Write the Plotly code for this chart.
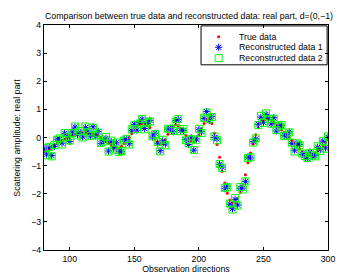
import plotly.graph_objects as go

directions = list(range(80, 301, 2))

true_data = [
    -0.50, -0.47, -0.41, -0.34, -0.27, -0.21, -0.15, -0.10, -0.05, -0.01,
    0.04, 0.08, 0.12, 0.15, 0.16, 0.17, 0.17, 0.16, 0.15, 0.13,
    0.10, 0.06, 0.01, -0.06, -0.13, -0.20, -0.27, -0.33, -0.37, -0.37,
    -0.31, -0.22, -0.12, 0.00, 0.14, 0.27, 0.38, 0.46, 0.50, 0.50,
    0.45, 0.36, 0.12, -0.05, -0.15, -0.22, -0.22, -0.08, 0.12, 0.28,
    0.40, 0.45, 0.42, 0.33, 0.20, 0.07, -0.05, -0.13, -0.17, -0.10,
    0.08, 0.30, 0.50, 0.62, 0.65, 0.50, 0.15, -0.25, -0.70, -1.20,
    -1.62, -1.98, -2.22, -2.33, -2.30, -2.18, -1.95, -1.70, -1.32, -0.90,
    -0.55, -0.24, 0.10, 0.35, 0.52, 0.62, 0.67, 0.66, 0.60, 0.52,
    0.43, 0.35, 0.27, 0.18, 0.10, 0.00, -0.10, -0.20, -0.30, -0.40,
    -0.50, -0.57, -0.60, -0.62, -0.60, -0.55, -0.47, -0.38, -0.28, -0.17,
    -0.07,
]

recon_1 = [
    -0.40, -0.59, -0.36, -0.64, -0.32, -0.06, -0.07, -0.20, 0.15, 0.04,
    -0.14, 0.20, 0.37, 0.10, 0.18, 0.02, 0.35, 0.24, 0.05, 0.38,
    0.05, 0.21, -0.21, -0.11, -0.03, -0.48, -0.15, -0.38, -0.19, -0.49,
    -0.51, -0.07, -0.07, -0.22, 0.24, 0.47, 0.26, 0.54, 0.65, 0.32,
    0.50, 0.61, 0.02, 0.15, -0.20, -0.47, -0.12, -0.23, 0.30, 0.33,
    0.20, 0.60, 0.64, 0.25, 0.25, -0.08, -0.25, -0.01, -0.45, -0.05,
    0.28, 0.20, 0.68, 0.92, 0.60, 0.75, 0.00, -0.05, -0.95, -1.05,
    -1.82, -1.73, -2.37, -2.53, -2.20, -2.40, -1.80, -1.80, -1.57, -0.70,
    -0.73, -0.14, -0.05, 0.47, 0.72, 0.54, 0.82, 0.71, 0.48, 0.70,
    0.23, 0.43, 0.42, 0.08, 0.05, 0.20, -0.22, -0.45, -0.22, -0.25,
    -0.60, -0.62, -0.75, -0.52, -0.68, -0.65, -0.35, -0.43, -0.13, -0.37,
    0.01,
]

recon_2 = [
    -0.37, -0.63, -0.34, -0.67, -0.27, -0.08, -0.03, -0.25, 0.16, 0.01,
    -0.11, 0.16, 0.39, 0.07, 0.23, 0.00, 0.39, 0.19, 0.06, 0.35,
    0.08, 0.17, -0.19, -0.14, 0.02, -0.50, -0.11, -0.43, -0.18, -0.52,
    -0.48, -0.11, -0.05, -0.25, 0.29, 0.45, 0.30, 0.49, 0.66, 0.29,
    0.53, 0.57, 0.04, 0.12, -0.15, -0.49, -0.08, -0.28, 0.31, 0.30,
    0.23, 0.56, 0.66, 0.22, 0.30, -0.10, -0.21, -0.06, -0.44, -0.08,
    0.31, 0.16, 0.70, 0.89, 0.65, 0.73, 0.04, -0.10, -0.94, -1.08,
    -1.79, -1.77, -2.35, -2.56, -2.15, -2.42, -1.76, -1.85, -1.56, -0.73,
    -0.70, -0.18, -0.03, 0.44, 0.77, 0.52, 0.86, 0.66, 0.49, 0.67,
    0.26, 0.39, 0.44, 0.05, 0.10, 0.18, -0.18, -0.50, -0.21, -0.28,
    -0.57, -0.66, -0.73, -0.55, -0.63, -0.67, -0.31, -0.48, -0.12, -0.40,
    0.04,
]

x_ticks = [100, 150, 200, 250, 300]
y_ticks = [-4, -3, -2, -1, 0, 1, 2, 3, 4]
legend_labels = ["True data", "Reconstructed data 1", "Reconstructed data 2"]

FONT = "Liberation Sans, Arial, sans-serif"
RED, BLUE, GREEN = "#ff0000", "#0000ff", "#00ff00"

styles = [
    dict(symbol="circle", size=3, color=RED, line=dict(width=0)),
    dict(symbol="asterisk-open", size=6, color=BLUE, line=dict(width=1, color=BLUE)),
    dict(symbol="square-open", size=7, color=GREEN, line=dict(width=1, color=GREEN)),
]

fig = go.Figure()
for name, vals, st in zip(legend_labels, [true_data, recon_1, recon_2], styles):
    fig.add_trace(go.Scatter(x=directions, y=vals, mode="markers", name=name,
                             marker=st, showlegend=False))

# Compact MATLAB-like legend drawn on a hidden overlay axis
leg_x_sym = 0.615
leg_x_txt = 0.680
leg_rows = [0.948, 0.901, 0.853]
for name, st, ry in zip(legend_labels, styles, leg_rows):
    fig.add_trace(go.Scatter(x=[leg_x_sym], y=[ry], mode="markers", marker=st,
                             xaxis="x2", yaxis="y2", showlegend=False,
                             hoverinfo="skip"))
    fig.add_annotation(x=leg_x_txt, y=ry, xref="paper", yref="paper",
                       text=name, showarrow=False, xanchor="left",
                       yanchor="middle",
                       font=dict(family=FONT, size=8.8, color="black"))

fig.add_shape(type="rect", xref="paper", yref="paper",
              x0=0.553, x1=0.997, y0=0.823, y1=0.996,
              line=dict(color="black", width=1), fillcolor="white",
              layer="below")

# y-axis title placed like MATLAB's (further left than Plotly's default)
fig.add_annotation(x=-0.098, y=0.5, xref="paper", yref="paper",
                   text="Scattering amplitude: real part", textangle=-90,
                   showarrow=False, xanchor="center", yanchor="middle",
                   font=dict(family=FONT, size=8.8, color="black"))

axis_common = dict(
    showline=True, linecolor="black", linewidth=1, mirror="ticks",
    ticks="inside", ticklen=3, tickcolor="black", showgrid=False,
    zeroline=False, tickfont=dict(family=FONT, size=8.8, color="black"),
)

fig.update_layout(
    width=346, height=275,
    margin=dict(l=36, r=26, t=17, b=26),
    paper_bgcolor="white", plot_bgcolor="white",
    title=dict(
        text="Comparison between true data and reconstructed data: real part, d=(0,−1)",
        font=dict(family=FONT, size=8.8, color="black"),
        xref="container", x=0.523, xanchor="center",
        yref="container", y=0.97, yanchor="middle",
    ),
    xaxis=dict(
        range=[80, 300], tickvals=x_ticks,
        title=dict(text="Observation directions", standoff=1,
                   font=dict(family=FONT, size=8.8, color="black")),
        **axis_common,
    ),
    yaxis=dict(
        range=[-4, 4], tickvals=y_ticks,
        **axis_common,
    ),
    xaxis2=dict(overlaying="x", range=[0, 1], visible=False, fixedrange=True),
    yaxis2=dict(overlaying="y", range=[0, 1], visible=False, fixedrange=True),
    showlegend=False,
)

fig.write_html("out.html")
